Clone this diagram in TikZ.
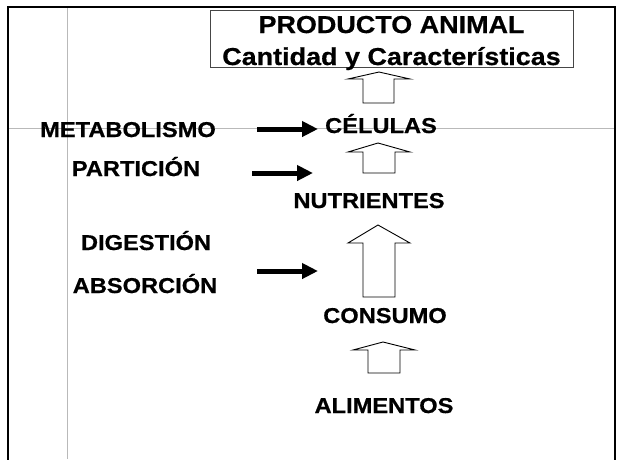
\documentclass[tikz,border=0pt]{standalone}
\usepackage{fontspec}
\newfontfamily\labfont{Liberation Sans Bold}[FakeStretch=1.1,FakeBold=0.6]
\usetikzlibrary{arrows.meta}
\definecolor{gridgray}{RGB}{185,185,185}
\definecolor{boxgray}{RGB}{70,70,70}
\begin{document}
\begin{tikzpicture}[x=1pt,y=-1pt,
  lab/.style={font=\labfont\fontsize{21.5}{24}\selectfont, anchor=base, inner sep=0pt},
  ttl/.style={font=\labfont\fontsize{24.5}{28}\selectfont, anchor=base, inner sep=0pt},
  guide/.style={draw=gridgray, line width=0.9pt},
  frame/.style={draw=black, line width=2pt},
  blk/.style={draw=black, fill=white, line width=0.9pt, line join=miter},
  barrow/.style={draw=black, line width=5pt, -{Triangle[length=16pt,width=15pt]}}
]
\useasboundingbox (0,0) rectangle (620,459);
% guide lines
\draw[guide] (67,7) -- (67,459);
\draw[guide] (8,128) -- (615,128);
% frame
\draw[frame] (8,460) -- (8,7) -- (615,7) -- (615,460);
% title box
\node[draw=boxgray, line width=1pt, minimum width=363pt, minimum height=57pt, inner sep=0pt] (titlebox) at (391.5,38.5) {};
\node[ttl] (t1) at (391.5,33) {PRODUCTO ANIMAL};
\node[ttl] (t2) at (391.5,65) {Cantidad y Características};
% labels
\node[lab] (metab) at (128,137) {METABOLISMO};
\node[lab] (cel) at (381,133) {CÉLULAS};
\node[lab] (part) at (136,176) {PARTICIÓN};
\node[lab] (nut) at (369,208) {NUTRIENTES};
\node[lab] (dig) at (146,250) {DIGESTIÓN};
\node[lab] (abs) at (145,293) {ABSORCIÓN};
\node[lab] (cons) at (385,323) {CONSUMO};
\node[lab] (alim) at (384,413) {ALIMENTOS};
% block arrows
\draw[blk] (363,103) -- (363,79) -- (348,79) -- (379,72) -- (410,79) -- (394,79) -- (394,103) -- cycle;
\draw[blk] (363,173) -- (363,152) -- (348,152) -- (378,143) -- (410,152) -- (395,152) -- (395,173) -- cycle;
\draw[blk] (363,297) -- (363,243) -- (348,243) -- (378,225) -- (410,243) -- (395,243) -- (395,297) -- cycle;
\draw[blk] (368,373) -- (368,350) -- (353,350) -- (383,342) -- (415,350) -- (400,350) -- (400,373) -- cycle;
% black arrows
\coordinate (a1s) at (257,129); \coordinate (a1e) at (318,129);
\coordinate (a2s) at (252,173); \coordinate (a2e) at (313,173);
\coordinate (a3s) at (257,271); \coordinate (a3e) at (318,271);
\draw[barrow] (a1s) -- (a1e);
\draw[barrow] (a2s) -- (a2e);
\draw[barrow] (a3s) -- (a3e);
\end{tikzpicture}
\end{document}
